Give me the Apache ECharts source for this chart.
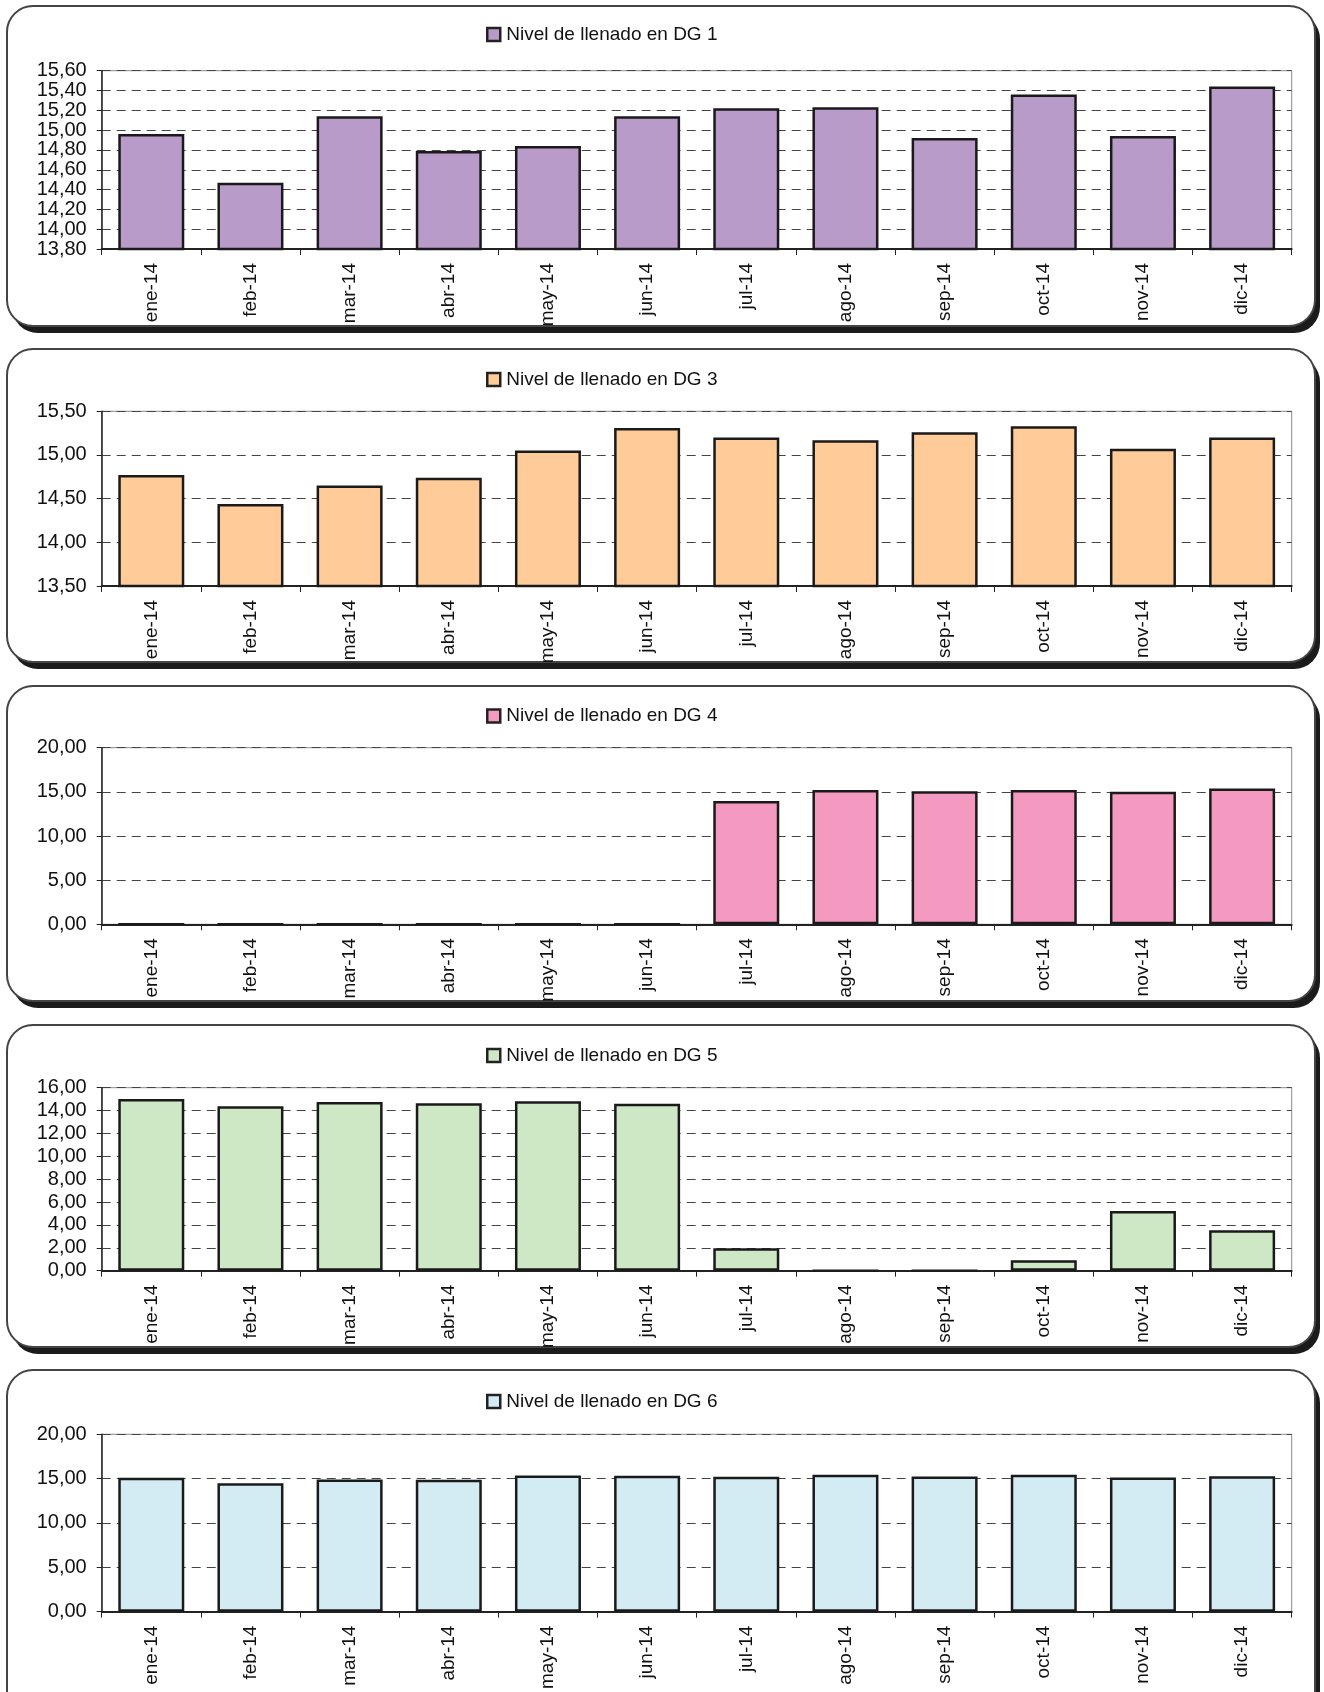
<!DOCTYPE html>
<html>
<head>
<meta charset="utf-8">
<script src="https://cdn.jsdelivr.net/npm/echarts@6/dist/echarts.min.js"></script>
<style>
html,body{margin:0;padding:0;background:#fff;}
#c{position:absolute;left:0;top:0;width:1324px;height:1692px;}
</style>
</head>
<body>
<div id="c"></div>
<script>
const categories = ['ene-14','feb-14','mar-14','abr-14','may-14','jun-14','jul-14','ago-14','sep-14','oct-14','nov-14','dic-14'];
const names = ['Nivel de llenado en DG 1','Nivel de llenado en DG 3','Nivel de llenado en DG 4','Nivel de llenado en DG 5','Nivel de llenado en DG 6'];
const dg1 = [14.96, 14.47, 15.14, 14.79, 14.84, 15.14, 15.22, 15.23, 14.92, 15.36, 14.94, 15.44];
const dg3 = [14.77, 14.44, 14.65, 14.74, 15.05, 15.31, 15.20, 15.17, 15.26, 15.33, 15.07, 15.20];
const dg4 = [0, 0, 0, 0, 0, 0, 13.95, 15.20, 15.08, 15.22, 15.00, 15.38];
const dg5 = [15.02, 14.38, 14.74, 14.65, 14.82, 14.60, 1.97, 0, 0, 0.92, 5.22, 3.54];
const dg6 = [15.10, 14.48, 14.90, 14.88, 15.35, 15.32, 15.22, 15.45, 15.24, 15.45, 15.13, 15.26];
const yMin = [13.8, 13.5, 0, 0, 0];
const yMax = [15.6, 15.5, 20, 16, 20];
const yStep = [0.2, 0.5, 5, 2, 5];

const seriesData = [dg1, dg3, dg4, dg5, dg6];
const colors = ['#B89BC9', '#FFCC99', '#F49AC1', '#CEE7C4', '#D3ECF3'];
// layout (pixels)
const panelTop = [6, 349, 686, 1025, 1370];
const panelH = [320, 313, 315, 322, 360];
const gridTop = [70.7, 411.3, 747.7, 1087.7, 1434.3];
const gridBottomY = [249, 586, 924.3, 1270.7, 1617.7];
const legendCenter = [35, 380, 716.5, 1056, 1402];

const FONT = '"Liberation Sans", Arial, Helvetica, sans-serif';
const chart = echarts.init(document.getElementById('c'), null, {renderer: 'canvas'});

const grids = [], xAxes = [], yAxes = [], series = [], legends = [], graphics = [];
for (let i = 0; i < 5; i++) {
  graphics.push({
    type: 'rect', z: -20, silent: true,
    shape: {x: 12, y: panelTop[i] + 7, width: 1308, height: panelH[i], r: 26},
    style: {fill: '#1b1b1b'}
  });
  graphics.push({
    type: 'rect', z: -19, silent: true,
    shape: {x: 7, y: panelTop[i], width: 1308, height: panelH[i], r: 26},
    style: {fill: '#ffffff', stroke: '#444', lineWidth: 2}
  });
  grids.push({
    left: 101.7, right: 32.3, top: gridTop[i], height: gridBottomY[i] - gridTop[i],
    show: true, borderColor: '#8a8a8a', borderWidth: 1, backgroundColor: 'transparent'
  });
  xAxes.push({
    type: 'category', gridIndex: i, data: categories, boundaryGap: true,
    axisLine: {show: true, lineStyle: {color: '#222', width: 2}},
    axisTick: {show: true, length: 6, lineStyle: {color: '#222', width: 1}},
    axisLabel: {rotate: 90, margin: 14, fontSize: 19, color: '#111', fontFamily: FONT, interval: 0, overflow: 'none'},
    splitLine: {show: false}
  });
  yAxes.push({
    type: 'value', gridIndex: i, min: yMin[i], max: yMax[i], interval: yStep[i],
    axisLine: {show: true, lineStyle: {color: '#222', width: 1.5}},
    axisTick: {show: true, length: 5, lineStyle: {color: '#222', width: 1}},
    axisLabel: {
      margin: 15, fontSize: 20, color: '#111', fontFamily: FONT,
      formatter: v => v.toFixed(2).replace('.', ',')
    },
    splitLine: {show: true, lineStyle: {color: '#444', width: 1, type: [9, 6]}}
  });
  series.push({
    type: 'bar', name: names[i], xAxisIndex: i, yAxisIndex: i,
    data: seriesData[i], barWidth: 66,
    itemStyle: {color: colors[i], borderColor: '#1a1a1a', borderWidth: 2.5},
    emphasis: {disabled: true}, animation: false
  });
  legends.push({
    data: [names[i]], left: 486, top: legendCenter[i] - 10, padding: 0,
    itemWidth: 13, itemHeight: 13, icon: 'rect',
    itemStyle: {color: colors[i], borderColor: '#222', borderWidth: 2.5},
    textStyle: {fontSize: 19, color: '#111', fontFamily: FONT, padding: [0, 0, 0, 1]},
    selectedMode: false
  });
}

chart.setOption({
  animation: false,
  backgroundColor: '#ffffff',
  graphic: graphics,
  legend: legends,
  grid: grids,
  xAxis: xAxes,
  yAxis: yAxes,
  series: series
});
</script>
</body>
</html>
